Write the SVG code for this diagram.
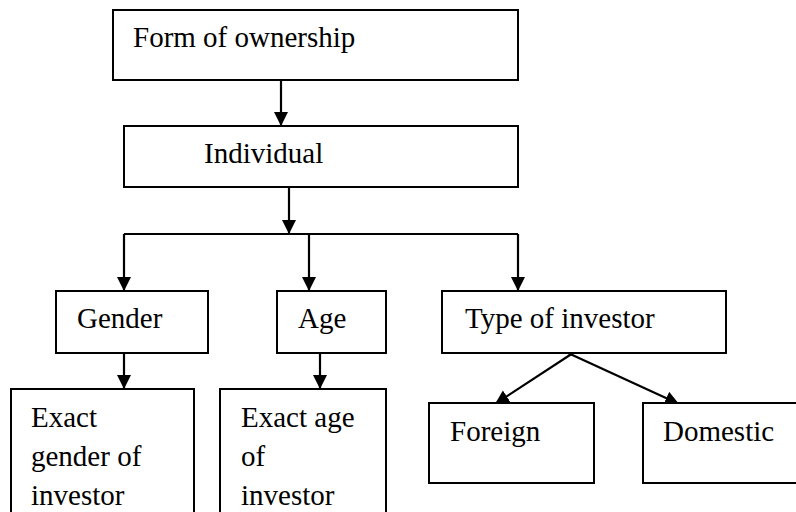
<svg xmlns="http://www.w3.org/2000/svg" width="796" height="512" viewBox="0 0 796 512">
  <style>
    .box { fill: #fff; stroke: #000; stroke-width: 2; }
    .lbl { font-family: 'Liberation Serif', serif; font-size: 29px; fill: #000; }
    .link { fill: none; stroke: #000; stroke-width: 2.2; }
    .arr { marker-end: url(#arrow); }
  </style>
  <defs>
    <marker id="arrow" markerUnits="userSpaceOnUse" markerWidth="16" markerHeight="16" refX="14" refY="7" orient="auto">
      <path d="M0,0 L14,7 L0,14 Z" fill="#000"/>
    </marker>
  </defs>
  <rect width="796" height="512" fill="#fff"/>

  <g id="connectors">
    <path class="link arr" d="M281,80 V126"/>
    <path class="link arr" d="M289,187 V234"/>
    <path class="link" d="M124,234 H518"/>
    <path class="link arr" d="M124,234 V291"/>
    <path class="link arr" d="M309,234 V291"/>
    <path class="link arr" d="M518,234 V291"/>
    <path class="link arr" d="M124,353 V389"/>
    <path class="link arr" d="M320,353 V389"/>
    <path class="link arr" d="M573,353 L495,404"/>
    <path class="link arr" d="M568,353 L679,404"/>
  </g>

  <g id="form-of-ownership">
    <rect class="box" x="113" y="10" width="405" height="70"/>
    <text class="lbl" x="133" y="47">Form of ownership</text>
  </g>
  <g id="individual">
    <rect class="box" x="124" y="126" width="394" height="61"/>
    <text class="lbl" x="204" y="163">Individual</text>
  </g>
  <g id="gender">
    <rect class="box" x="56" y="291" width="152" height="62"/>
    <text class="lbl" x="77" y="328">Gender</text>
  </g>
  <g id="age">
    <rect class="box" x="277" y="291" width="109" height="62"/>
    <text class="lbl" x="298" y="328">Age</text>
  </g>
  <g id="type-of-investor">
    <rect class="box" x="442" y="291" width="284" height="62"/>
    <text class="lbl" x="465" y="328">Type of investor</text>
  </g>
  <g id="exact-gender">
    <rect class="box" x="11" y="389" width="183" height="140"/>
    <text class="lbl" x="31" y="427">Exact</text>
    <text class="lbl" x="31" y="466">gender of</text>
    <text class="lbl" x="31" y="505">investor</text>
  </g>
  <g id="exact-age">
    <rect class="box" x="220" y="389" width="166" height="140"/>
    <text class="lbl" x="241" y="427">Exact age</text>
    <text class="lbl" x="241" y="466">of</text>
    <text class="lbl" x="241" y="505">investor</text>
  </g>
  <g id="foreign">
    <rect class="box" x="429" y="403" width="165" height="80"/>
    <text class="lbl" x="450" y="441">Foreign</text>
  </g>
  <g id="domestic">
    <rect class="box" x="643" y="403" width="170" height="80"/>
    <text class="lbl" x="663" y="441">Domestic</text>
  </g>
</svg>
